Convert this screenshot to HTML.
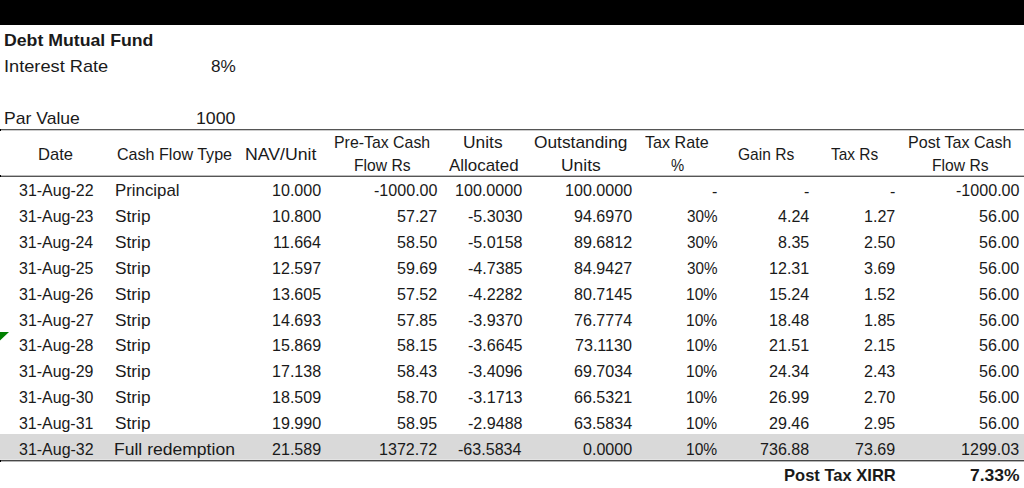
<!DOCTYPE html>
<html><head><meta charset="utf-8"><style>
html,body{margin:0;padding:0;background:#fff;}
body{width:1024px;height:488px;overflow:hidden;position:relative;}
.r,.b{position:absolute;white-space:pre;color:#1a1a1a;font-family:"Liberation Sans",sans-serif;font-size:17.0px;line-height:20px;transform-origin:0 0;}
.b{font-weight:700;font-size:17.0px;}
.bar{position:absolute;left:0;top:0;width:1024px;height:25px;background:#000;}
.band{position:absolute;left:0;top:434px;width:1024px;height:26px;background:#d9d9d9;}
.ln{position:absolute;left:0;width:1024px;height:1px;}
</style></head>
<body>

<div class=bar></div>
<div class=band></div>
<div class=ln style='top:129px;background:#555'></div>
<div class=ln style='top:130px;background:#ccc'></div>
<div class=ln style='top:175px;background:#bbb'></div>
<div class=ln style='top:176px;background:#555'></div>
<div class=ln style='top:459px;background:#e4e4e4'></div>
<div class=ln style='top:460px;background:#474747'></div>
<div class=ln style='top:461px;background:#b4b4b4'></div>
<div style='position:absolute;left:0;top:129px;width:1px;height:2px;background:#000'></div>
<div style='position:absolute;left:0;top:175px;width:1px;height:2px;background:#000'></div>
<div style='position:absolute;left:0;top:460px;width:1px;height:2px;background:#000'></div>
<svg style='position:absolute;left:0;top:331px' width=12 height=12><polygon points='0,1 9,1 0,9.5' fill='#008000'/></svg>

<div class=b style='left:3.86px;top:31.00px;transform:scaleX(1.0410);'>Debt Mutual Fund</div>
<div class=r style='left:3.69px;top:56.90px;transform:scaleX(1.0709);'>Interest Rate</div>
<div class=r style='left:210.84px;top:57.00px;transform:scaleX(1.0108);'>8%</div>
<div class=r style='left:3.91px;top:108.90px;transform:scaleX(1.0336);'>Par Value</div>
<div class=r style='left:195.99px;top:108.70px;transform:scaleX(1.0444);'>1000</div>
<div class=r style='left:38.18px;top:145.20px;transform:scaleX(0.9735);'>Date</div>
<div class=r style='left:117.49px;top:145.20px;transform:scaleX(0.9464);'>Cash Flow Type</div>
<div class=r style='left:244.50px;top:145.20px;transform:scaleX(1.0409);'>NAV/Unit</div>
<div class=r style='left:333.83px;top:132.60px;transform:scaleX(0.9340);'>Pre-Tax Cash</div>
<div class=r style='left:353.85px;top:155.80px;transform:scaleX(0.9210);'>Flow Rs</div>
<div class=r style='left:463.12px;top:132.60px;transform:scaleX(1.0216);'>Units</div>
<div class=r style='left:448.50px;top:155.80px;transform:scaleX(0.9957);'>Allocated</div>
<div class=r style='left:533.84px;top:132.60px;transform:scaleX(1.0189);'>Outstanding</div>
<div class=r style='left:560.62px;top:155.80px;transform:scaleX(1.0270);'>Units</div>
<div class=r style='left:645.46px;top:132.60px;transform:scaleX(0.9494);'>Tax Rate</div>
<div class=r style='left:671.06px;top:155.80px;transform:scaleX(0.8714);'>%</div>
<div class=r style='left:737.61px;top:145.20px;transform:scaleX(0.9162);'>Gain Rs</div>
<div class=r style='left:831.47px;top:145.20px;transform:scaleX(0.9093);'>Tax Rs</div>
<div class=r style='left:908.32px;top:132.60px;transform:scaleX(0.9467);'>Post Tax Cash</div>
<div class=r style='left:932.05px;top:155.80px;transform:scaleX(0.9210);'>Flow Rs</div>
<div class=r style='left:18.73px;top:181.20px;transform:scaleX(0.9397);'>31-Aug-22</div>
<div class=r style='left:114.76px;top:181.20px;transform:scaleX(0.9905);'>Principal</div>
<div class=r style='left:271.76px;top:181.20px;transform:scaleX(0.9463);'>10.000</div>
<div class=r style='left:373.67px;top:181.20px;transform:scaleX(0.9463);'>-1000.00</div>
<div class=r style='left:455.12px;top:181.20px;transform:scaleX(0.9463);'>100.0000</div>
<div class=r style='left:564.82px;top:181.20px;transform:scaleX(0.9463);'>100.0000</div>
<div class=r style='left:712.27px;top:181.90px;transform:scaleX(0.9463);'>-</div>
<div class=r style='left:803.77px;top:181.90px;transform:scaleX(0.9463);'>-</div>
<div class=r style='left:890.07px;top:181.90px;transform:scaleX(0.9463);'>-</div>
<div class=r style='left:955.57px;top:181.20px;transform:scaleX(0.9463);'>-1000.00</div>
<div class=r style='left:18.73px;top:207.08px;transform:scaleX(0.9367);'>31-Aug-23</div>
<div class=r style='left:114.64px;top:207.08px;transform:scaleX(1.0149);'>Strip</div>
<div class=r style='left:271.76px;top:207.08px;transform:scaleX(0.9463);'>10.800</div>
<div class=r style='left:397.09px;top:207.08px;transform:scaleX(0.9463);'>57.27</div>
<div class=r style='left:467.66px;top:207.08px;transform:scaleX(0.9463);'>-5.3030</div>
<div class=r style='left:573.81px;top:207.08px;transform:scaleX(0.9463);'>94.6970</div>
<div class=r style='left:686.85px;top:207.08px;transform:scaleX(0.8970);'>30%</div>
<div class=r style='left:777.51px;top:207.08px;transform:scaleX(0.9463);'>4.24</div>
<div class=r style='left:864.28px;top:207.08px;transform:scaleX(0.9463);'>1.27</div>
<div class=r style='left:978.75px;top:207.08px;transform:scaleX(0.9463);'>56.00</div>
<div class=r style='left:18.73px;top:232.96px;transform:scaleX(0.9338);'>31-Aug-24</div>
<div class=r style='left:114.64px;top:232.96px;transform:scaleX(1.0149);'>Strip</div>
<div class=r style='left:272.95px;top:232.96px;transform:scaleX(0.9463);'>11.664</div>
<div class=r style='left:396.85px;top:232.96px;transform:scaleX(0.9463);'>58.50</div>
<div class=r style='left:467.66px;top:232.96px;transform:scaleX(0.9463);'>-5.0158</div>
<div class=r style='left:573.81px;top:232.96px;transform:scaleX(0.9463);'>89.6812</div>
<div class=r style='left:686.85px;top:232.96px;transform:scaleX(0.8970);'>30%</div>
<div class=r style='left:777.74px;top:232.96px;transform:scaleX(0.9463);'>8.35</div>
<div class=r style='left:864.04px;top:232.96px;transform:scaleX(0.9463);'>2.50</div>
<div class=r style='left:978.75px;top:232.96px;transform:scaleX(0.9463);'>56.00</div>
<div class=r style='left:18.73px;top:258.84px;transform:scaleX(0.9367);'>31-Aug-25</div>
<div class=r style='left:114.64px;top:258.84px;transform:scaleX(1.0149);'>Strip</div>
<div class=r style='left:272.00px;top:258.84px;transform:scaleX(0.9463);'>12.597</div>
<div class=r style='left:397.09px;top:258.84px;transform:scaleX(0.9463);'>59.69</div>
<div class=r style='left:467.66px;top:258.84px;transform:scaleX(0.9463);'>-4.7385</div>
<div class=r style='left:573.81px;top:258.84px;transform:scaleX(0.9463);'>84.9427</div>
<div class=r style='left:686.85px;top:258.84px;transform:scaleX(0.8970);'>30%</div>
<div class=r style='left:768.99px;top:258.84px;transform:scaleX(0.9463);'>12.31</div>
<div class=r style='left:864.28px;top:258.84px;transform:scaleX(0.9463);'>3.69</div>
<div class=r style='left:978.75px;top:258.84px;transform:scaleX(0.9463);'>56.00</div>
<div class=r style='left:18.73px;top:284.72px;transform:scaleX(0.9367);'>31-Aug-26</div>
<div class=r style='left:114.64px;top:284.72px;transform:scaleX(1.0149);'>Strip</div>
<div class=r style='left:272.00px;top:284.72px;transform:scaleX(0.9463);'>13.605</div>
<div class=r style='left:397.09px;top:284.72px;transform:scaleX(0.9463);'>57.52</div>
<div class=r style='left:467.90px;top:284.72px;transform:scaleX(0.9463);'>-4.2282</div>
<div class=r style='left:573.81px;top:284.72px;transform:scaleX(0.9463);'>80.7145</div>
<div class=r style='left:686.15px;top:284.72px;transform:scaleX(0.9178);'>10%</div>
<div class=r style='left:768.75px;top:284.72px;transform:scaleX(0.9463);'>15.24</div>
<div class=r style='left:864.28px;top:284.72px;transform:scaleX(0.9463);'>1.52</div>
<div class=r style='left:978.75px;top:284.72px;transform:scaleX(0.9463);'>56.00</div>
<div class=r style='left:18.73px;top:310.60px;transform:scaleX(0.9397);'>31-Aug-27</div>
<div class=r style='left:114.64px;top:310.60px;transform:scaleX(1.0149);'>Strip</div>
<div class=r style='left:272.00px;top:310.60px;transform:scaleX(0.9463);'>14.693</div>
<div class=r style='left:397.09px;top:310.60px;transform:scaleX(0.9463);'>57.85</div>
<div class=r style='left:467.66px;top:310.60px;transform:scaleX(0.9463);'>-3.9370</div>
<div class=r style='left:573.57px;top:310.60px;transform:scaleX(0.9463);'>76.7774</div>
<div class=r style='left:686.15px;top:310.60px;transform:scaleX(0.9178);'>10%</div>
<div class=r style='left:768.99px;top:310.60px;transform:scaleX(0.9463);'>18.48</div>
<div class=r style='left:864.04px;top:310.60px;transform:scaleX(0.9463);'>1.85</div>
<div class=r style='left:978.75px;top:310.60px;transform:scaleX(0.9463);'>56.00</div>
<div class=r style='left:18.73px;top:336.48px;transform:scaleX(0.9367);'>31-Aug-28</div>
<div class=r style='left:114.64px;top:336.48px;transform:scaleX(1.0149);'>Strip</div>
<div class=r style='left:272.00px;top:336.48px;transform:scaleX(0.9463);'>15.869</div>
<div class=r style='left:397.09px;top:336.48px;transform:scaleX(0.9463);'>58.15</div>
<div class=r style='left:467.66px;top:336.48px;transform:scaleX(0.9463);'>-3.6645</div>
<div class=r style='left:574.99px;top:336.48px;transform:scaleX(0.9463);'>73.1130</div>
<div class=r style='left:686.15px;top:336.48px;transform:scaleX(0.9178);'>10%</div>
<div class=r style='left:768.99px;top:336.48px;transform:scaleX(0.9463);'>21.51</div>
<div class=r style='left:864.04px;top:336.48px;transform:scaleX(0.9463);'>2.15</div>
<div class=r style='left:978.75px;top:336.48px;transform:scaleX(0.9463);'>56.00</div>
<div class=r style='left:18.73px;top:362.36px;transform:scaleX(0.9367);'>31-Aug-29</div>
<div class=r style='left:114.64px;top:362.36px;transform:scaleX(1.0149);'>Strip</div>
<div class=r style='left:272.00px;top:362.36px;transform:scaleX(0.9463);'>17.138</div>
<div class=r style='left:397.09px;top:362.36px;transform:scaleX(0.9463);'>58.43</div>
<div class=r style='left:467.66px;top:362.36px;transform:scaleX(0.9463);'>-3.4096</div>
<div class=r style='left:573.57px;top:362.36px;transform:scaleX(0.9463);'>69.7034</div>
<div class=r style='left:686.15px;top:362.36px;transform:scaleX(0.9178);'>10%</div>
<div class=r style='left:768.75px;top:362.36px;transform:scaleX(0.9463);'>24.34</div>
<div class=r style='left:864.04px;top:362.36px;transform:scaleX(0.9463);'>2.43</div>
<div class=r style='left:978.75px;top:362.36px;transform:scaleX(0.9463);'>56.00</div>
<div class=r style='left:18.73px;top:388.24px;transform:scaleX(0.9367);'>31-Aug-30</div>
<div class=r style='left:114.64px;top:388.24px;transform:scaleX(1.0149);'>Strip</div>
<div class=r style='left:272.00px;top:388.24px;transform:scaleX(0.9463);'>18.509</div>
<div class=r style='left:396.85px;top:388.24px;transform:scaleX(0.9463);'>58.70</div>
<div class=r style='left:467.66px;top:388.24px;transform:scaleX(0.9463);'>-3.1713</div>
<div class=r style='left:573.81px;top:388.24px;transform:scaleX(0.9463);'>66.5321</div>
<div class=r style='left:686.15px;top:388.24px;transform:scaleX(0.9178);'>10%</div>
<div class=r style='left:768.99px;top:388.24px;transform:scaleX(0.9463);'>26.99</div>
<div class=r style='left:864.04px;top:388.24px;transform:scaleX(0.9463);'>2.70</div>
<div class=r style='left:978.75px;top:388.24px;transform:scaleX(0.9463);'>56.00</div>
<div class=r style='left:18.73px;top:414.12px;transform:scaleX(0.9367);'>31-Aug-31</div>
<div class=r style='left:114.64px;top:414.12px;transform:scaleX(1.0149);'>Strip</div>
<div class=r style='left:271.76px;top:414.12px;transform:scaleX(0.9463);'>19.990</div>
<div class=r style='left:397.09px;top:414.12px;transform:scaleX(0.9463);'>58.95</div>
<div class=r style='left:467.66px;top:414.12px;transform:scaleX(0.9463);'>-2.9488</div>
<div class=r style='left:573.57px;top:414.12px;transform:scaleX(0.9463);'>63.5834</div>
<div class=r style='left:686.15px;top:414.12px;transform:scaleX(0.9178);'>10%</div>
<div class=r style='left:768.99px;top:414.12px;transform:scaleX(0.9463);'>29.46</div>
<div class=r style='left:864.04px;top:414.12px;transform:scaleX(0.9463);'>2.95</div>
<div class=r style='left:978.75px;top:414.12px;transform:scaleX(0.9463);'>56.00</div>
<div class=r style='left:18.73px;top:440.00px;transform:scaleX(0.9397);'>31-Aug-32</div>
<div class=r style='left:114.31px;top:440.00px;transform:scaleX(1.0318);'>Full redemption</div>
<div class=r style='left:272.00px;top:440.00px;transform:scaleX(0.9463);'>21.589</div>
<div class=r style='left:379.11px;top:440.00px;transform:scaleX(0.9463);'>1372.72</div>
<div class=r style='left:458.43px;top:440.00px;transform:scaleX(0.9463);'>-63.5834</div>
<div class=r style='left:582.56px;top:440.00px;transform:scaleX(0.9463);'>0.0000</div>
<div class=r style='left:686.15px;top:440.00px;transform:scaleX(0.9178);'>10%</div>
<div class=r style='left:760.00px;top:440.00px;transform:scaleX(0.9463);'>736.88</div>
<div class=r style='left:855.29px;top:440.00px;transform:scaleX(0.9463);'>73.69</div>
<div class=r style='left:961.01px;top:440.00px;transform:scaleX(0.9463);'>1299.03</div>
<div class=b style='left:783.93px;top:465.50px;transform:scaleX(0.9727);'>Post Tax XIRR</div>
<div class=b style='left:969.63px;top:465.50px;transform:scaleX(1.0298);'>7.33%</div>
</body></html>
